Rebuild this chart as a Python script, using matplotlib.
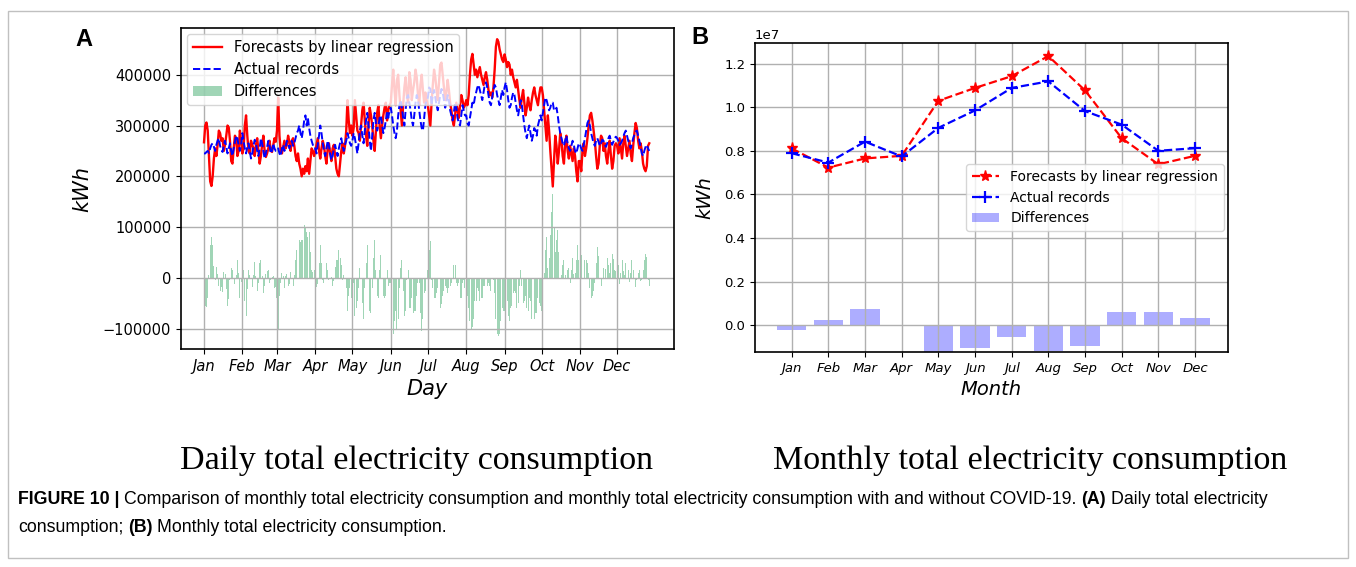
import numpy as np
import matplotlib
matplotlib.use("Agg")
import matplotlib.pyplot as plt
from matplotlib import font_manager
from matplotlib.patches import Rectangle

# daily totals, in thousands of kWh, Jan 1 .. Dec 27
forecast_daily = [
    267, 300, 306, 290, 240, 190, 181, 200, 235, 255, 240, 262, 290, 285, 270, 275, 250, 262, 280, 300, 296, 270, 230, 225, 255, 280, 275, 240, 250, 290, 270,
    245, 255, 300, 320, 280, 250, 245, 270, 262, 255, 240, 262, 275, 250, 225, 240, 262, 280, 250, 238, 245, 255, 270, 250, 248, 262, 275, 268,
    290, 355, 280, 250, 245, 258, 270, 255, 262, 280, 268, 250, 270, 275, 260, 240, 230, 245, 225, 215, 200, 215, 205, 220, 210, 235, 205, 230, 255, 250, 240,
    250, 262, 275, 250, 235, 255, 270, 260, 240, 225, 255, 265, 245, 230, 255, 262, 240, 215, 205, 200, 225, 250, 265, 245, 260, 290, 350, 310, 285, 300,
    280, 295, 350, 320, 290, 285, 270, 300, 330, 345, 310, 280, 260, 300, 335, 320, 300, 270, 250, 290, 325, 340, 300, 275, 300, 320, 335, 345, 310, 330, 340,
    345, 380, 410, 370, 340, 390, 400, 360, 330, 300, 340, 375, 395, 360, 345, 405, 390, 350, 370, 385, 410, 395, 360, 340, 380, 400, 370, 345, 365, 350,
    340, 320, 300, 345, 380, 410, 395, 370, 350, 385, 420, 424, 400, 375, 350, 365, 390, 370, 345, 330, 310, 300, 320, 345, 330, 315, 340, 360, 350, 335, 340,
    350, 340, 360, 400, 430, 441, 420, 400, 410, 395, 405, 415, 400, 390, 380, 395, 405, 390, 370, 360, 365, 355, 375, 410, 455, 470, 465, 450, 440, 430, 425,
    440, 430, 415, 425, 420, 400, 410, 395, 385, 375, 390, 370, 350, 335, 355, 370, 345, 320, 335, 355, 340, 330, 350, 365, 375, 360, 350, 340, 360, 375,
    375, 360, 330, 300, 270, 320, 290, 250, 215, 180, 230, 280, 260, 225, 250, 285, 270, 240, 225, 265, 280, 250, 235, 260, 245, 230, 255, 240, 210, 190, 230,
    230, 210, 250, 265, 240, 255, 275, 300, 320, 325, 310, 290, 270, 240, 215, 225, 260, 280, 275, 250, 265, 240, 225, 250, 270, 240, 215, 230, 260, 265,
    260, 245, 275, 255, 235, 265, 280, 260, 240, 255, 270, 245, 230, 260, 285, 305, 295, 270, 255, 265, 250, 225, 215, 210, 220, 260, 265,
]
actual_daily = [
    245, 245, 248, 250, 246, 255, 262, 265, 258, 250, 262, 270, 275, 260, 252, 248, 262, 270, 258, 245, 255, 265, 250, 240, 255, 268, 280, 275, 260, 250, 262,
    285, 270, 255, 245, 258, 265, 250, 235, 245, 260, 272, 265, 250, 240, 255, 275, 265, 250, 235, 245, 258, 270, 260, 245, 250, 265, 255, 250,
    250, 255, 245, 240, 255, 262, 250, 258, 270, 265, 255, 262, 270, 260, 265, 275, 285, 290, 300, 285, 275, 290, 310, 320, 300, 315, 295, 280, 270, 262, 255,
    255, 245, 262, 280, 300, 285, 265, 250, 240, 255, 270, 260, 245, 232, 240, 255, 262, 250, 240, 255, 265, 275, 260, 250, 262, 270, 285, 275, 265, 260,
    270, 285, 275, 260, 245, 265, 290, 300, 280, 265, 290, 310, 325, 300, 270, 250, 280, 310, 325, 305, 290, 300, 315, 320, 300, 285, 295, 310, 325, 315, 330,
    335, 320, 300, 285, 275, 290, 320, 340, 350, 335, 315, 300, 330, 355, 360, 345, 330, 310, 300, 320, 345, 360, 350, 330, 310, 295, 290, 315, 340, 350,
    355, 375, 372, 340, 360, 370, 355, 340, 330, 345, 360, 372, 365, 350, 335, 345, 360, 350, 330, 320, 310, 325, 345, 335, 315, 305, 300, 320, 340, 330, 320,
    320, 305, 300, 315, 330, 345, 340, 355, 365, 375, 380, 370, 360, 350, 365, 380, 385, 375, 360, 345, 340, 355, 370, 380, 375, 360, 350, 340, 355, 370, 360,
    375, 385, 370, 350, 335, 340, 355, 365, 360, 345, 330, 320, 335, 350, 340, 320, 300, 285, 275, 290, 300, 285, 270, 280, 295, 290, 280, 300, 310, 320,
    310, 325, 340, 355, 350, 340, 330, 335, 345, 345, 330, 330, 335, 320, 300, 285, 275, 265, 260, 270, 280, 265, 255, 250, 260, 270, 262, 250, 245, 255, 265,
    262, 255, 250, 262, 275, 290, 305, 310, 300, 285, 275, 265, 260, 270, 275, 268, 260, 265, 272, 270, 262, 258, 265, 275, 280, 270, 262, 268, 275, 278,
    275, 270, 262, 265, 270, 278, 285, 290, 280, 270, 262, 255, 265, 275, 282, 288, 290, 280, 270, 258, 245, 240, 250, 258, 262, 255, 250,
]
month_start_days = [0, 31, 59, 90, 120, 151, 181, 212, 243, 273, 304, 334]
month_names = ["Jan", "Feb", "Mar", "Apr", "May", "Jun", "Jul", "Aug", "Sep", "Oct", "Nov", "Dec"]

# monthly totals, in units of 1e7 kWh (panel B)
forecast_monthly = [0.811, 0.723, 0.765, 0.777, 1.029, 1.088, 1.142, 1.234, 1.077, 0.858, 0.738, 0.777]
actual_monthly = [0.789, 0.746, 0.842, 0.774, 0.905, 0.985, 1.088, 1.118, 0.982, 0.920, 0.800, 0.812]

W, H = 1356, 567
fig = plt.figure(figsize=(W / 100, H / 100), dpi=100)


def axes_px(left, top, right, bottom):
    return fig.add_axes([left / W, 1 - bottom / H, (right - left) / W, (bottom - top) / H])


fc = np.array(forecast_daily) * 1000.0
ac = np.array(actual_daily) * 1000.0
days = np.arange(len(fc))

# ---- panel A
ax1 = axes_px(181, 28, 674, 349)
ax1.plot(days, fc, color="red", lw=1.7, label="Forecasts by linear regression")
ax1.plot(days, ac, color="blue", ls="--", lw=1.4, label="Actual records")
ax1.bar(days, ac - fc, width=0.8, color="#2ca25f", alpha=0.45, label="Differences")
ax1.set_xlim(-18.6, 380)
ax1.set_ylim(-140000, 492000)
ax1.set_xticks(month_start_days)
ax1.set_xticklabels(month_names, fontstyle="italic", fontsize=10.5)
ax1.tick_params(axis="y", labelsize=10.5)
ax1.grid(True, color="#b0b0b0", lw=1)
ax1.set_ylabel("kWh", fontstyle="italic", fontsize=15)
ax1.set_xlabel("Day", fontstyle="italic", fontsize=15)
ax1.yaxis.set_label_coords(-0.18, 0.5)
ax1.xaxis.set_label_coords(0.5, -0.095)
ax1.legend(loc="upper left", fontsize=10.5, borderaxespad=0.4)

# ---- panel B
months = np.arange(12)
fm = np.array(forecast_monthly) * 1e7
am = np.array(actual_monthly) * 1e7
ax2 = axes_px(755, 43, 1228, 352)
ax2.plot(months, fm, "r--", marker="*", ms=8, lw=1.6, label="Forecasts by linear regression")
ax2.plot(months, am, "b--", marker="+", ms=9, mew=1.6, lw=1.6, label="Actual records")
ax2.bar(months, am - fm, width=0.8, color="blue", alpha=0.32, label="Differences")
ax2.set_xlim(-1.0, 11.9)
ax2.set_ylim(-0.122e7, 1.294e7)
ax2.set_xticks(months)
ax2.set_xticklabels(month_names, fontstyle="italic", fontsize=9.5)
ax2.tick_params(axis="y", labelsize=9.5)
ax2.yaxis.get_offset_text().set_fontsize(9.5)
ax2.grid(True, color="#b0b0b0", lw=1)
ax2.set_ylabel("kWh", fontstyle="italic", fontsize=14)
ax2.set_xlabel("Month", fontstyle="italic", fontsize=14)
ax2.yaxis.set_label_coords(-0.085, 0.5)
ax2.xaxis.set_label_coords(0.5, -0.09)
ax2.legend(loc="center right", fontsize=10, borderaxespad=0.3)

for ax in (ax1, ax2):
    for sp in ax.spines.values():
        sp.set_linewidth(1.2)

# panel letters and sub-captions
fig.text(84 / W, 1 - 40 / H, "A", fontsize=17, fontweight="bold", family="Liberation Sans", ha="center", va="center")
fig.text(700 / W, 1 - 37 / H, "B", fontsize=17, fontweight="bold", family="Liberation Sans", ha="center", va="center")
fig.text(417 / W, 1 - 461 / H, "Daily total electricity consumption", fontsize=24.5, family="Liberation Serif", ha="center", va="center")
fig.text(1030 / W, 1 - 461 / H, "Monthly total electricity consumption", fontsize=24.5, family="Liberation Serif", ha="center", va="center")

# figure caption, mixed bold / regular pieces chained left to right
names = {f.name for f in font_manager.fontManager.ttflist}
cap_family = "Liberation Sans Narrow" if "Liberation Sans Narrow" in names else "Liberation Sans"
line1 = [("FIGURE 10 |", "bold"),
         ("Comparison of monthly total electricity consumption and monthly total electricity consumption with and without COVID-19.", "normal"),
         ("(A)", "bold"), ("Daily total electricity", "normal")]
line2 = [("consumption;", "normal"), ("(B)", "bold"), ("Monthly total electricity consumption.", "normal")]

renderer = fig.canvas.get_renderer()


def place_line(pieces, x0, y, size):
    x = x0
    objs = []
    for s, w in pieces:
        t = fig.text(x / W, 1 - y / H, s, fontsize=size, fontweight=w, family=cap_family, va="center", ha="left")
        bb = t.get_window_extent(renderer)
        x = bb.x1 + 0.27 * size * 100 / 72
        objs.append(t)
    return objs, x


trial, xend = place_line(line1, 18, 500, 10)
width10 = xend - 18
for t in trial:
    t.remove()
cap_size = 10 * (1262 / width10)
place_line(line1, 18, 500, cap_size)
place_line(line2, 18, 527, cap_size)

fig.add_artist(Rectangle((8 / W, 1 - 558 / H), (1348 - 8) / W, (558 - 11) / H, transform=fig.transFigure,
                         fill=False, edgecolor="#c0c0c0", lw=1))

fig.savefig("out.png", dpi=100)
